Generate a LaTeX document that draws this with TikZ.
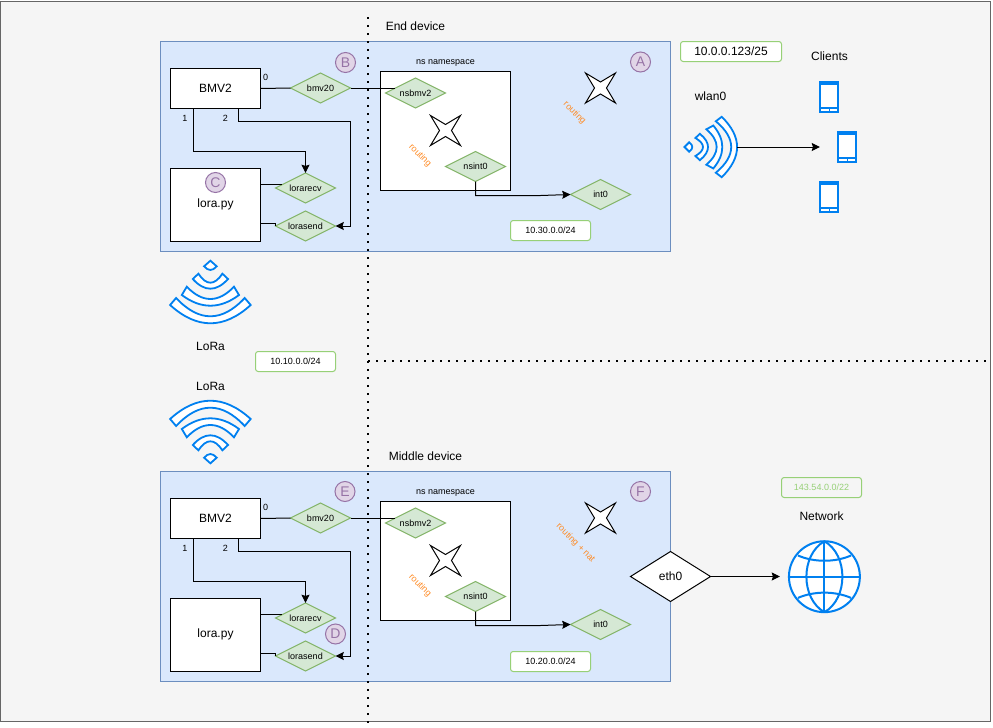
\documentclass[tikz,border=0pt]{standalone}
\usepackage{fontspec}
\setmainfont{Liberation Sans}
\usetikzlibrary{shapes.geometric,arrows.meta}
\definecolor{bgc}{HTML}{F5F5F5}
\definecolor{bgl}{HTML}{666666}
\definecolor{blockf}{HTML}{DAE8FC}
\definecolor{blockl}{HTML}{6C8EBF}
\definecolor{dgreen}{HTML}{D5E8D4}
\definecolor{lgreen}{HTML}{82B366}
\definecolor{ipgreen}{HTML}{97D077}
\definecolor{pfill}{HTML}{E1D5E7}
\definecolor{pline}{HTML}{9673A6}
\definecolor{iconb}{HTML}{0080F0}
\definecolor{orng}{HTML}{FF8C26}
\newcommand{\fnine}{\fontsize{6.75pt}{8pt}\selectfont}
\newcommand{\ftwelve}{\fontsize{9pt}{11pt}\selectfont}
\newcommand{\fcirc}{\fontsize{10.5pt}{12pt}\selectfont}
\tikzset{
  x=0.75pt,y=-0.75pt,
  every node/.style={inner sep=0pt,outer sep=0pt,text=black},
  conn/.style={line width=0.75pt,draw=black},
  arr/.style={conn,-{Stealth[length=6.2pt,width=6pt,inset=0.9pt]}},
  blockbox/.style={draw=blockl,fill=blockf,line width=0.75pt},
  whitebox/.style={draw=black,fill=white,line width=0.75pt,rectangle,minimum width=67.5pt,font=\ftwelve},
  iface/.style={diamond,aspect=2,draw=lgreen,fill=dgreen,line width=0.75pt,minimum width=45pt,minimum height=22.5pt,font=\fnine},
  ipbox/.style={rectangle,rounded corners=2pt,draw=ipgreen,fill=white,line width=0.75pt,minimum width=60pt,minimum height=15pt,font=\fnine},
  mark1/.style={circle,draw=pline,fill=pfill,line width=0.75pt,minimum size=15pt,text=pline,font=\fcirc},
  small/.style={font=\fnine},
  big/.style={font=\ftwelve},
  rout/.style={font=\fnine,text=orng,rotate=-45},
  bandd/.style={draw=iconb,fill=white,line width=1.35pt,line join=miter},
  dotline/.style={draw=black,line width=1.5pt,dash pattern=on 1.5pt off 4.5pt},
  starshape/.style={draw=black,fill=white,line width=0.75pt,line join=miter,miter limit=8},
}
% one band of a wifi icon: wo co to  wi ci ti
\newcommand{\band}[6]{%
  \path[bandd] (-#1,#2) .. controls ({-#1/3},{#2+4/3*(#3-#2)}) and ({#1/3},{#2+4/3*(#3-#2)}) .. (#1,#2)
     -- (#4,#5) .. controls ({#4/3},{#5+4/3*(#6-#5)}) and ({-#4/3},{#5+4/3*(#6-#5)}) .. (-#4,#5) -- cycle;}
\newcommand{\wifi}[1]{%
  \begin{scope}[#1]
    \path[bandd] (0,0) -- (-6.3,5.6) .. controls (-2.1,10.5) and (2.1,10.5) .. (6.3,5.6) -- cycle;
    \band{17.6}{18.3}{28}{12}{13}{22}
    \band{28.6}{34.3}{45}{23.6}{26}{38.3}
    \band{40.3}{44.3}{62.6}{34.3}{37.3}{55.6}
  \end{scope}}
\newcommand{\phone}[2]{%
  \begin{scope}[shift={(#1,#2)}]
    \fill[iconb] (0,0) rectangle (20,31.7);
    \fill[white] (2,3.5) rectangle (18,25.5);
    \fill[white] (2,27.5) rectangle (9.4,29.7);
    \fill[white] (10.6,27.5) rectangle (18,29.7);
  \end{scope}}
\newcommand{\fourstar}[2]{%
  \path[starshape] (#1-15,#2-15) -- (#1,#2-6) -- (#1+15,#2-15) -- (#1+6,#2)
    -- (#1+15,#2+15) -- (#1,#2+6) -- (#1-15,#2+15) -- (#1-6,#2) -- cycle;}
% the common inside of a device block
\newcommand{\device}[2]{%
  \begin{scope}[shift={(0,#2)}]
  \path[blockbox] (160.5,41.5) rectangle (670.5,251.5);
  \node[whitebox,minimum height=30pt] (#1bmv) at (215.5,88.5) {BMV2};
  \node[whitebox,minimum height=55.1pt] (#1lora) at (215.5,204.75) {lora.py};
  \node[draw=black,fill=white,line width=0.75pt,minimum width=97.5pt,minimum height=89.25pt] (#1ns) at (445.5,131) {};
  \node[small] (#1nslab) at (445.5,63) {ns namespace};
  \node[iface] (#1bmvz) at (320.5,88) {bmv20};
  \node[iface] (#1nsb) at (415.5,93) {nsbmv2};
  \node[iface] (#1nsi) at (475.5,166.5) {nsint0};
  \node[iface] (#1int) at (600.5,194.5) {int0};
  \node[iface] (#1recv) at (305.5,188) {lorarecv};
  \node[iface] (#1send) at (305.5,226) {lorasend};
  \node[small] (#1p0) at (265.5,77) {0};
  \node[small] (#1p1) at (185,118) {1};
  \node[small] (#1p2) at (225.5,118) {2};
  \coordinate (#1a) at (193,108.5);
  \coordinate (#1b) at (238,108.5);
  \coordinate (#1c) at (475.5,195.5);
  \fourstar{445.5}{130.5}
  \node[rout] (#1r2) at (420,155.5) {routing};
  \draw[conn] (#1bmv.east) -- (#1bmvz.west);
  \draw[conn] (#1bmvz.east) -- (#1bmvz.east -| #1nsb.167);
  \draw[arr] (#1a) -- ++(0,43) -| (#1recv.north);
  \draw[arr] (#1b) -- ++(0,13) -- ++(112.5,0) |- (#1send.east);
  \draw[conn] (#1lora.east |- #1recv.172) -- (#1recv.172);
  \draw[conn] (#1lora.east |- 0,223) -- (275.5,223) -- (#1send.west);
  \draw[arr] (#1nsi.south) -- (#1c) -- ++(65,0) -- (#1int.west);
  \end{scope}}
\begin{document}
\begin{tikzpicture}
\useasboundingbox (0,0) rectangle (993,728);
\fill[white] (0,0) rectangle (993,728);
\path[fill=bgc,draw=bgl,line width=0.75pt] (0.5,1.5) rectangle (990.5,721.5);
\device{t}{0}
\device{m}{430}
% top block
\fourstar{600.5}{88}
\node[rout] (rt) at (574.5,113) {routing};
\node[ipbox] (ip30) at (550.5,230.5) {10.30.0.0/24};
\node[mark1] (mb) at (345.5,62.5) {B};
\node[mark1] (ma) at (640.5,62) {A};
\node[mark1] (mc) at (215.5,182.5) {C};
% bottom block
\fourstar{600.5}{518}
\node[rout] (rm) at (575.5,543) {routing + nat};
\node[ipbox] (ip20) at (550.5,661.5) {10.20.0.0/24};
\node[mark1] (me) at (345,491.5) {E};
\node[mark1] (mf) at (640.5,491.5) {F};
\node[mark1] (md) at (335.5,634) {D};
\node[diamond,aspect=1.6,draw=black,fill=white,line width=0.75pt,minimum width=60pt,minimum height=37.5pt,font=\ftwelve] (eth) at (670.5,576.5) {eth0};
% dotted guides
\draw[dotline] (367.5,17) -- (367.5,728);
\draw[dotline] (368,361) -- (990,361);
% texts
\node[big] (endd) at (415.5,26) {End device};
\node[big] (midd) at (425.5,456) {Middle device};
\node[big] (cl) at (829.5,56) {Clients};
\node[big] (wl) at (710.5,96) {wlan0};
\node[big] (lo1) at (210.5,346) {LoRa};
\node[big] (lo2) at (210.5,386) {LoRa};
\node[big] (net) at (821.5,516) {Network};
\node[rectangle,rounded corners=2pt,draw=ipgreen,fill=white,line width=0.75pt,minimum width=75.75pt,minimum height=15pt,font=\ftwelve] (ip123) at (731,51.5) {10.0.0.123/25};
\node[ipbox] (ip10) at (295.5,361.5) {10.10.0.0/24};
\node[ipbox,fill=bgc,text=ipgreen] (ip143) at (821.5,487.5) {143.54.0.0/22};
% icons
\wifi{shift={(210.4,260.7)}}
\wifi{shift={(210.4,463.3)},rotate=180}
\wifi{shift={(684.5,147)},rotate=90,xscale=.75,yscale=.84}
\phone{819.3}{81}
\phone{837.3}{131}
\phone{819.3}{181}
\coordinate (glob) at (824.4,576.7);
\path[draw=iconb,fill=white,line width=1.5pt] (glob) circle [radius=26.6pt];
\begin{scope}[draw=iconb,line width=1.5pt]
  \draw (824.4,541.2) .. controls (800.4,555) and (800.4,598.4) .. (824.4,612.2);
  \draw (824.4,541.2) .. controls (848.4,555) and (848.4,598.4) .. (824.4,612.2);
  \draw (788.9,576.7) -- (859.9,576.7);
  \draw (824.4,541.2) -- (824.4,612.2);
  \draw (798,555.5) .. controls (814,562.5) and (835,562.5) .. (851,555.5);
  \draw (798,597.9) .. controls (814,590.9) and (835,590.9) .. (851,597.9);
\end{scope}
% outer connectors
\coordinate (wlout) at (737,147);
\coordinate (wlend) at (820,147);
\draw[arr] (wlout) -- (wlend);
\coordinate (netend) at (780,576.5);
\draw[arr] (eth.east) -- (netend);
\end{tikzpicture}
\end{document}
